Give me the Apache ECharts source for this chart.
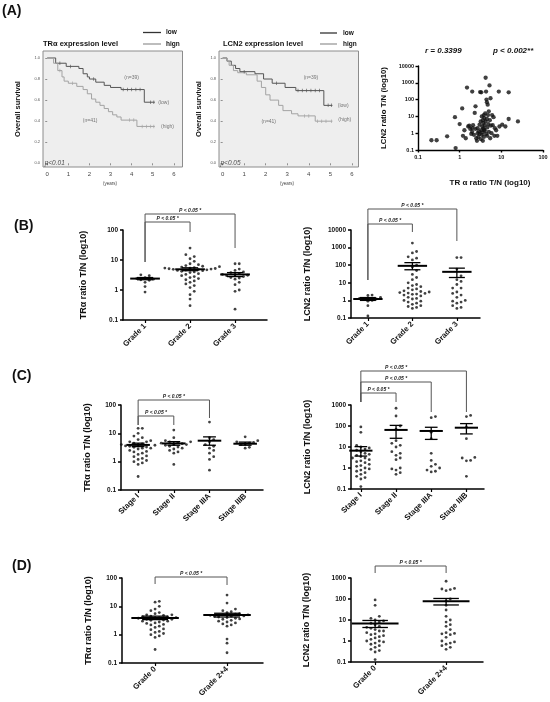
<!DOCTYPE html>
<html><head><meta charset="utf-8">
<script src="https://cdn.jsdelivr.net/npm/echarts@6/dist/echarts.min.js"></script>
<style>html,body{margin:0;padding:0;background:#fff}#c{width:550px;height:702px}</style>
</head><body><div id="c"></div>
<script>
// ================= DATA =================
// (A) Kaplan–Meier curves: [years, survival after the drop]
const kmYears = [0, 1, 2, 3, 4, 5, 6];
const kmSurvTicks = [0, 0.2, 0.4, 0.6, 0.8, 1.0];
const traLowSteps = [[0,1],[0.4,0.95],[0.9,0.92],[1.5,0.9],[1.7,0.85],[1.9,0.82],[2.0,0.8],[2.3,0.77],[2.7,0.74],[3.0,0.72],[3.5,0.7],[4.6,0.58],[5.1,0.58]];
const traHighSteps = [[0,1],[0.3,0.95],[0.5,0.88],[0.7,0.82],[0.8,0.78],[1.0,0.76],[1.4,0.73],[1.7,0.7],[1.9,0.66],[2.1,0.61],[2.3,0.58],[2.5,0.55],[2.7,0.52],[2.9,0.49],[3.1,0.46],[3.3,0.44],[3.5,0.41],[4.25,0.35],[5.1,0.35]];
const traLowCensor = [0.6, 1.1, 2.2, 3.6, 3.8, 4.0, 4.2, 4.4, 4.9, 5.05];
const traHighCensor = [0.6, 1.2, 3.9, 4.1, 4.5, 4.7, 4.9, 5.05];
const lcnLowSteps = [[0,1],[0.2,0.97],[0.4,0.93],[0.6,0.9],[0.8,0.87],[1.5,0.85],[1.9,0.8],[2.3,0.76],[2.9,0.72],[3.4,0.69],[4.7,0.55],[5.1,0.55]];
const lcnHighSteps = [[0,1],[0.2,0.97],[0.3,0.93],[0.5,0.88],[0.7,0.86],[1.1,0.84],[1.6,0.78],[1.8,0.72],[2.0,0.65],[2.2,0.6],[2.6,0.55],[2.8,0.5],[3.2,0.47],[3.5,0.45],[4.3,0.4],[5.1,0.4]];
const lcnLowCensor = [1.0, 2.5, 3.5, 3.7, 3.9, 4.1, 4.3, 4.5, 4.9, 5.05];
const lcnHighCensor = [3.8, 4.0, 4.4, 4.6, 4.8, 5.05];

// (A) correlation scatter: TRα ratio T/N, LCN2 ratio T/N
const scatterTRa = [0.21,0.28,0.5,0.8,0.77,1.0,1.15,1.2,1.3,1.4,1.5,1.6,1.7,1.8,1.9,2.0,2.0,2.1,2.2,2.3,2.4,2.4,2.5,2.6,2.7,2.7,2.8,2.9,3.0,3.0,3.1,3.2,3.2,3.3,3.3,3.4,3.4,3.5,3.5,3.6,3.6,3.7,3.7,3.8,3.8,3.9,4.0,4.0,4.1,4.2,4.2,4.3,4.3,4.4,4.5,4.5,4.6,4.7,4.8,4.9,5.0,5.0,5.2,5.3,5.4,5.5,5.6,5.8,6.0,6.2,6.5,6.8,7.0,7.5,8.0,8.7,9.0,10.5,12.5,15,15,25,3.9,4.6,2.0];
const scatterLCN2 = [0.38,0.38,0.65,0.13,9,3.5,30,0.7,1.5,0.5,520,2.5,2.8,1.8,0.9,300,1.2,3,0.8,16,40,1.8,0.5,0.35,2,1.0,0.6,1.3,0.9,3.2,280,0.45,5,1.5,270,0.8,10,2.5,1.1,6,0.35,4,1.9,12,0.6,8,3,1.4,15,2000,5,0.9,300,100,70,7,2.2,50,12,3.5,1.2,20,700,6,0.5,120,2.8,1.0,12,3,9,0.7,2,1.5,0.7,300,2.5,3.2,2.5,7,270,5,1.6,0.7,2.0];

// (B) by histological grade
const gradeCats = ['Grade 1', 'Grade 2', 'Grade 3'];
const traGrade1 = [3.2,3.0,2.6,2.4,2.3,2.2,2.1,1.8,1.3,0.85];
const traGrade2 = [25,15,13,11,9,7.5,7,6.5,6.2,6,5.8,5.6,5.4,5.3,5.2,5.1,5,4.9,4.8,4.7,4.6,4.5,4.4,4.2,4,3.8,3.5,3.3,3,2.8,2.6,2.4,2.2,2,1.8,1.6,1.4,1.2,0.9,0.7,0.5,0.3];
const traGrade3 = [7.5,7.5,5,4.5,4,3.8,3.5,3.3,3.2,3.1,3,2.8,2.6,2.5,2.3,1.8,1.5,1.0,0.9,0.23];
const traGradeMean = [2.4, 4.9, 3.3];
const traGradeSemLow = [2.2, 4.4, 2.8];
const traGradeSemHigh = [2.6, 5.5, 3.8];
const lcnGrade1 = [2.0,1.9,1.5,1.3,1.2,1.1,1.0,0.9,0.5,0.13];
const lcnGrade2 = [1800,600,500,300,250,200,100,80,50,30,20,15,10,8,7,6,5,4.5,4,3.5,3.2,3,2.8,2.6,2.5,2.3,2.2,2,1.8,1.5,1.3,1.2,1,0.9,0.8,0.7,0.6,0.5,0.45,0.4,0.35];
const lcnGrade3 = [270,270,60,25,15,12,8,5,5,3,2.5,2,1.5,1,0.9,0.8,0.7,0.5,0.4,0.35];
const lcnGradeMean = [1.2, 92, 42];
const lcnGradeSemLow = [1.0, 55, 20];
const lcnGradeSemHigh = [1.45, 140, 68];

// (C) by stage
const stageCats = ['Stage I', 'Stage II', 'Stage IIIA', 'Stage IIIB'];
const traStage1 = [15,15,10,8,7,6,5.5,5,5,4.5,4.2,4,4,3.8,3.6,3.5,3.3,3.2,3,3,2.8,2.5,2.3,2.2,2,1.8,1.6,1.5,1.3,1.2,1.1,1,0.9,0.8,0.3];
const traStage2 = [13,7,5.5,5,5,4.8,4.5,4.3,4,4,3.8,3.5,3.3,3,2.8,2.5,2.2,2,0.8];
const traStage3A = [25,7,6,5,4,3.5,3,2.5,2,1.5,1.2,0.5];
const traStage3B = [7.5,5.5,5,4.8,4.5,4.2,4,3.2,3];
const traStageMean = [3.9, 4.4, 5.5, 4.3];
const traStageSemLow = [3.4, 3.8, 3.8, 3.8];
const traStageSemHigh = [4.5, 5.1, 7.5, 4.9];
const lcnStage1 = [90,50,12,10,9,8,7,6,5,4.5,4,3.5,3,3,2.5,2.2,2,1.8,1.5,1.3,1.2,1,0.9,0.8,0.7,0.6,0.5,0.4,0.35,0.3,0.13];
const lcnStage2 = [700,300,100,70,20,15,12,10,6,5,4,3,2.5,1,0.9,0.8,0.6,0.5];
const lcnStage3A = [280,250,50,25,5,2.3,1.5,1.2,1,0.8,0.7,0.65];
const lcnStage3B = [320,280,90,25,3.2,3,2.3,2.2,0.4];
const lcnStageMean = [6.7, 65, 58, 83];
const lcnStageSemLow = [3.7, 26, 23, 42];
const lcnStageSemHigh = [10.4, 107, 87, 130];

// (D) by nuclear grade
const nucCats = ['Grade 0', 'Grade 2+4'];
const traNuc0 = [15,14,10,8,7,6,5.5,5,5,4.8,4.5,4.3,4.2,4,4,3.8,3.7,3.5,3.5,3.3,3.2,3,3,2.8,2.6,2.5,2.3,2.2,2,1.8,1.6,1.5,1.3,1.2,1.1,1,0.9,0.8,0.3];
const traNuc24 = [25,13,8,7,6.5,6,5.5,5.3,5,5,4.8,4.6,4.5,4.4,4.2,4,3.8,3.6,3.5,3.2,3,2.8,2.6,2.4,2.2,2,0.7,0.5,0.23];
const traNucMean = [3.9, 4.9];
const traNucSemLow = [3.4, 4.2];
const traNucSemHigh = [4.5, 5.7];
const lcnNuc0 = [90,50,15,12,10,9,8,7,6,5,4.5,4,3.5,3,3,2.5,2.2,2,1.8,1.6,1.4,1.2,1,1,0.9,0.8,0.7,0.6,0.5,0.4,0.35,0.3,0.13];
const lcnNuc24 = [700,320,300,280,250,100,80,50,30,15,10,8,6,5,3.5,2.5,2.3,2.2,2,1.5,1,0.9,0.8,0.7,0.6,0.5,0.4];
const lcnNucMean = [6.9, 79];
const lcnNucSemLow = [4.4, 52];
const lcnNucSemHigh = [9.5, 106];

const logTicks2 = [0.1, 1, 10, 100];
const logTicks3 = [0.1, 1, 10, 100, 1000];
const logTicks4 = [0.1, 1, 10, 100, 1000, 10000];
const sigLabel = 'P < 0.05 *';

// ================= LAYOUT / STYLE =================
const FONT = '"Liberation Sans", Arial, Helvetica, sans-serif';
const chart = echarts.init(document.getElementById('c'), null, {renderer: 'canvas'});
const grids = [], xAxes = [], yAxes = [], series = [], graphic = [];

function survAt(steps, t) { let s = steps[0][1]; for (const p of steps) { if (p[0] <= t) s = p[1]; } return s; }
function fmtNum(v) { return String(+Number(v).toPrecision(6)); }

function addKM(box, xr, yr, nameGap, low, high, lowC, highC, notes) {
  const g = grids.length;
  grids.push({left: box[0], top: box[1], width: box[2], height: box[3], show: true,
    backgroundColor: '#eeeeee', borderColor: '#8c8c8c', borderWidth: 1, outerBoundsMode: 'none', containLabel: false});
  xAxes.push({gridIndex: g, type: 'value', min: xr[0], max: xr[1], splitLine: {show: false}, axisLine: {show: false},
    axisTick: {show: true, length: 2, customValues: kmYears, lineStyle: {color: '#777', width: 0.8}},
    axisLabel: {customValues: kmYears, fontSize: 6, color: '#444', margin: 4, fontFamily: FONT}});
  yAxes.push({gridIndex: g, type: 'value', min: yr[0], max: yr[1], splitLine: {show: false}, axisLine: {show: false},
    axisTick: {show: true, length: 2, customValues: kmSurvTicks, lineStyle: {color: '#777', width: 0.8}},
    axisLabel: {customValues: kmSurvTicks, fontSize: 4, color: '#555', margin: 3, fontFamily: FONT, formatter: v => Number(v).toFixed(1)},
    name: 'Overall survival', nameLocation: 'middle', nameGap: nameGap,
    nameTextStyle: {fontWeight: 'bold', fontSize: 7.5, color: '#111', fontFamily: FONT}});
  const lineCfg = (data, color) => ({type: 'line', xAxisIndex: g, yAxisIndex: g, data: data, step: 'end', symbol: 'none',
    lineStyle: {color: color, width: 1}, silent: true, z: 3});
  series.push(lineCfg(low, '#555555'));
  series.push(lineCfg(high, '#a3a3a3'));
  const censCfg = (times, steps, color) => ({type: 'scatter', xAxisIndex: g, yAxisIndex: g,
    data: times.map(t => [t, survAt(steps, t)]), symbol: 'rect', symbolSize: [0.8, 3.5], itemStyle: {color: color}, z: 4, silent: true});
  series.push(censCfg(lowC, low, '#555555'));
  series.push(censCfg(highC, high, '#a3a3a3'));
  series.push({type: 'scatter', xAxisIndex: g, yAxisIndex: g, symbolSize: 0, silent: true, z: 5,
    data: notes.map(n => ({value: n.at, name: n.text,
      label: {show: true, formatter: '{b}', position: n.left ? 'right' : 'inside', distance: 0,
        fontSize: n.size || 5, fontStyle: n.italic ? 'italic' : 'normal', color: n.color || '#555', fontFamily: FONT}}))});
}

addKM([43, 51, 139.5, 116], [-0.2, 6.41], [-0.035, 1.066], 21, traLowSteps, traHighSteps, traLowCensor, traHighCensor, [
  {text: '(n=39)', at: [4.0, 0.815]}, {text: '(low)', at: [5.52, 0.58]},
  {text: '(n=41)', at: [2.03, 0.405]}, {text: '(high)', at: [5.7, 0.35]},
  {text: 'p<0.01', at: [-0.12, 0.0], left: true, italic: true, size: 6.5, color: '#222'}]);
addKM([219, 51, 139.5, 116], [-0.17, 6.31], [-0.035, 1.066], 16, lcnLowSteps, lcnHighSteps, lcnLowCensor, lcnHighCensor, [
  {text: '(n=39)', at: [4.1, 0.81]}, {text: '(low)', at: [5.6, 0.55]},
  {text: '(n=41)', at: [2.14, 0.40]}, {text: '(high)', at: [5.67, 0.415]},
  {text: 'p<0.05', at: [-0.1, 0.0], left: true, italic: true, size: 6.5, color: '#222'}]);

// Scatter (A right)
(function () {
  const g = grids.length;
  grids.push({left: 418, top: 66, width: 125, height: 84, outerBoundsMode: 'none', containLabel: false});
  const ax = {color: '#000', width: 1.4};
  xAxes.push({gridIndex: g, type: 'log', logBase: 10, min: 0.1, max: 100, splitLine: {show: false}, minorTick: {show: false},
    axisLine: {show: true, lineStyle: ax}, axisTick: {show: true, length: 2.5, customValues: logTicks2, lineStyle: ax},
    axisLabel: {customValues: logTicks2, formatter: fmtNum, fontSize: 5.5, fontWeight: 'bold', color: '#111', margin: 4, fontFamily: FONT}});
  yAxes.push({gridIndex: g, type: 'log', logBase: 10, min: 0.1, max: 10000, splitLine: {show: false}, minorTick: {show: false},
    axisLine: {show: true, lineStyle: ax}, axisTick: {show: true, length: 2.5, customValues: logTicks4, lineStyle: ax},
    axisLabel: {customValues: logTicks4, formatter: fmtNum, fontSize: 5.5, fontWeight: 'bold', color: '#111', margin: 4, fontFamily: FONT},
    name: 'LCN2 ratio T/N (log10)', nameLocation: 'middle', nameGap: 30,
    nameTextStyle: {fontWeight: 'bold', fontSize: 7.8, color: '#111', fontFamily: FONT}});
  series.push({type: 'scatter', xAxisIndex: g, yAxisIndex: g, symbol: 'circle', symbolSize: 4.3,
    itemStyle: {color: '#111'}, data: scatterTRa.map((x, i) => [x, scatterLCN2[i]]), silent: true});
})();

// Dot plots
const panels = [
  {box: [123, 230, 144, 90], xr: [0.51, 3.71], yr: [0.1, 100], ticks: logTicks2, cats: gradeCats,
   groups: [traGrade1, traGrade2, traGrade3], mean: traGradeMean, lo: traGradeSemLow, hi: traGradeSemHigh,
   name: 'TRα ratio T/N (log10)', nameGap: 35,
   br: [{a: 1, b: 2, top: -8, l: 32, r: 2}, {a: 1, b: 3, top: -16, l: 32, r: 18}]},
  {box: [351, 230, 129, 88], xr: [0.62, 3.52], yr: [0.1, 10000], ticks: logTicks4, cats: gradeCats,
   groups: [lcnGrade1, lcnGrade2, lcnGrade3], mean: lcnGradeMean, lo: lcnGradeSemLow, hi: lcnGradeSemHigh,
   name: 'LCN2 ratio T/N (log10)', nameGap: 39,
   br: [{a: 1, b: 2, top: -6, l: 50, r: 2}, {a: 1, b: 3, top: -21, l: 50, r: 11}]},
  {box: [121, 405, 142, 85], xr: [0.52, 4.5], yr: [0.1, 100], ticks: logTicks2, cats: stageCats,
   groups: [traStage1, traStage2, traStage3A, traStage3B], mean: traStageMean, lo: traStageSemLow, hi: traStageSemHigh,
   name: 'TRα ratio T/N (log10)', nameGap: 29,
   br: [{a: 1, b: 2, top: 11, l: 20, r: 20}, {a: 1, b: 3, top: -5, l: 20, r: 13}]},
  {box: [351, 405, 133, 84], xr: [0.72, 4.5], yr: [0.1, 1000], ticks: logTicks3, cats: stageCats,
   groups: [lcnStage1, lcnStage2, lcnStage3A, lcnStage3B], mean: lcnStageMean, lo: lcnStageSemLow, hi: lcnStageSemHigh,
   name: 'LCN2 ratio T/N (log10)', nameGap: 39,
   br: [{a: 1, b: 2, top: -12, l: -3, r: -3}, {a: 1, b: 3, top: -23, l: -3, r: 7, t: 2}, {a: 1, b: 4, top: -34, l: -3, r: 7, t: 2}]},
  {box: [122, 578, 141, 85], xr: [0.54, 2.5], yr: [0.1, 100], ticks: logTicks2, cats: nucCats,
   groups: [traNuc0, traNuc24], mean: traNucMean, lo: traNucSemLow, hi: traNucSemHigh,
   name: 'TRα ratio T/N (log10)', nameGap: 29,
   br: [{a: 1, b: 2, top: -1, l: 6, r: 7}]},
  {box: [351, 578, 132, 84], xr: [0.66, 2.52], yr: [0.1, 1000], ticks: logTicks3, cats: nucCats,
   groups: [lcnNuc0, lcnNuc24], mean: lcnNucMean, lo: lcnNucSemLow, hi: lcnNucSemHigh,
   name: 'LCN2 ratio T/N (log10)', nameGap: 40,
   br: [{a: 1, b: 2, top: -12, l: -5, r: -5}]}
];

panels.forEach(p => {
  const g = grids.length; p.g = g;
  grids.push({left: p.box[0], top: p.box[1], width: p.box[2], height: p.box[3], outerBoundsMode: 'none', containLabel: false});
  const ax = {color: '#000', width: 1.5};
  const catVals = p.cats.map((c, i) => i + 1);
  xAxes.push({gridIndex: g, type: 'value', min: p.xr[0], max: p.xr[1], splitLine: {show: false},
    axisLine: {show: true, lineStyle: ax},
    axisTick: {show: true, length: 3, customValues: catVals, lineStyle: {color: '#000', width: 1.2}},
    axisLabel: {customValues: catVals, rotate: 45, formatter: v => p.cats[Math.round(v) - 1] || '',
      fontSize: 7.8, fontWeight: 'bold', color: '#111', margin: 5, fontFamily: FONT}});
  yAxes.push({gridIndex: g, type: 'log', logBase: 10, min: p.yr[0], max: p.yr[1], splitLine: {show: false}, minorTick: {show: false},
    axisLine: {show: true, lineStyle: ax}, axisTick: {show: true, length: 3, customValues: p.ticks, lineStyle: ax},
    axisLabel: {customValues: p.ticks, formatter: fmtNum, fontSize: 6.5, fontWeight: 'bold', color: '#111', margin: 5, fontFamily: FONT},
    name: p.name, nameLocation: 'middle', nameGap: p.nameGap,
    nameTextStyle: {fontWeight: 'bold', fontSize: 9, color: '#111', fontFamily: FONT}});
  // mean ± SEM
  series.push({type: 'custom', xAxisIndex: g, yAxisIndex: g, silent: true, z: 5,
    data: p.cats.map((c, i) => [i + 1, p.mean[i], p.lo[i], p.hi[i]]),
    renderItem: (params, api) => {
      const x = api.value(0);
      const pm = api.coord([x, api.value(1)]), pl = api.coord([x, api.value(2)]), ph = api.coord([x, api.value(3)]);
      const unit = api.coord([x + 1, api.value(1)])[0] - pm[0];
      const hw = unit * 0.33, cw = unit * 0.18;
      const st = w => ({stroke: '#000', lineWidth: w});
      return {type: 'group', children: [
        {type: 'line', shape: {x1: pm[0] - hw, y1: pm[1], x2: pm[0] + hw, y2: pm[1]}, style: st(2)},
        {type: 'line', shape: {x1: pl[0], y1: pl[1], x2: ph[0], y2: ph[1]}, style: st(1.3)},
        {type: 'line', shape: {x1: pl[0] - cw, y1: pl[1], x2: pl[0] + cw, y2: pl[1]}, style: st(1.3)},
        {type: 'line', shape: {x1: ph[0] - cw, y1: ph[1], x2: ph[0] + cw, y2: ph[1]}, style: st(1.3)}
      ]};
    }});
  // significance brackets
  series.push({type: 'custom', xAxisIndex: g, yAxisIndex: g, silent: true, clip: false, z: 6,
    data: p.br.map(b => [b.a, b.b]),
    renderItem: (params, api) => {
      const b = p.br[params.dataIndex];
      const top0 = api.coord([b.a, p.yr[1]])[1];
      const xa = api.coord([b.a, p.yr[1]])[0], xb = api.coord([b.b, p.yr[1]])[0];
      const yt = top0 + b.top;
      const xt = b.t ? api.coord([b.t, p.yr[1]])[0] : (xa + xb) / 2;
      return {type: 'group', children: [
        {type: 'polyline', shape: {points: [[xa, top0 + b.l], [xa, yt], [xb, yt], [xb, top0 + b.r]]},
         style: {stroke: '#555', lineWidth: 1, fill: 'none'}},
        {type: 'text', style: {text: sigLabel, x: xt, y: yt - 1, align: 'center', verticalAlign: 'bottom',
         font: 'italic bold 5px ' + FONT, fill: '#222'}}
      ]};
    }});
});

// Free texts
function txt(text, x, y, font, align, color) {
  graphic.push({type: 'text', x: x, y: y, silent: true,
    style: {text: text, font: font, fill: color || '#111', align: align || 'left', verticalAlign: 'middle',
      textAlign: align || 'left', textVerticalAlign: 'middle'}});
}
function seg(x1, y1, x2, y2, color, w) {
  graphic.push({type: 'line', silent: true, shape: {x1, y1, x2, y2}, style: {stroke: color, lineWidth: w}});
}
txt('(A)', 2, 11, 'bold 14px ' + FONT);
txt('(B)', 14, 226, 'bold 14px ' + FONT);
txt('(C)', 12, 376, 'bold 14px ' + FONT);
txt('(D)', 12, 566, 'bold 14px ' + FONT);
txt('TRα expression level', 43, 44, 'bold 7.5px ' + FONT);
txt('LCN2 expression level', 223, 44, 'bold 7.5px ' + FONT);
seg(143, 32.5, 161, 32.5, '#333', 1.3); txt('low', 166, 32.5, 'bold 6.5px ' + FONT);
seg(143, 44, 161, 44, '#999', 1.3); txt('hign', 166, 44, 'bold 6.5px ' + FONT);
seg(320, 33, 337, 33, '#333', 1.3); txt('low', 343, 33, 'bold 6.5px ' + FONT);
seg(320, 44, 337, 44, '#999', 1.3); txt('hign', 343, 44, 'bold 6.5px ' + FONT);
txt('(years)', 110, 184, '4.5px ' + FONT, 'center', '#444');
txt('(years)', 287, 184, '4.5px ' + FONT, 'center', '#444');
txt('r = 0.3399', 425, 51, 'italic bold 8px ' + FONT);
txt('p < 0.002**', 493, 51, 'italic bold 8px ' + FONT);
txt('TR α ratio T/N (log10)', 490, 183, 'bold 8px ' + FONT, 'center');

const option = {animation: false, backgroundColor: '#ffffff', textStyle: {fontFamily: FONT},
  grid: grids, xAxis: xAxes, yAxis: yAxes, series: series, graphic: graphic};
chart.setOption(option);

// Beeswarm layout of the dots (computed in pixel space through the chart's own scales)
function swarm(g, catX, vals, d) {
  const pts = vals.map(v => ({v: v, py: chart.convertToPixel({gridIndex: g}, [catX, v])[1]}));
  const px0 = chart.convertToPixel({gridIndex: g}, [catX, vals[0]])[0];
  pts.sort((a, b) => b.py - a.py);
  const placed = [];
  pts.forEach(pt => {
    let off = 0;
    for (let k = 0; k < 200; k++) {
      off = k === 0 ? 0 : (k % 2 ? 1 : -1) * Math.ceil(k / 2) * d;
      const hit = placed.some(q => (q.off - off) * (q.off - off) + (q.py - pt.py) * (q.py - pt.py) < d * d * 0.95);
      if (!hit) break;
    }
    pt.off = off; placed.push(pt);
  });
  return placed.map(pt => [chart.convertFromPixel({gridIndex: g}, [px0 + pt.off, pt.py])[0], pt.v]);
}
panels.forEach(p => {
  let data = [];
  p.groups.forEach((vals, i) => { data = data.concat(swarm(p.g, i + 1, vals, 4.2)); });
  series.push({type: 'scatter', xAxisIndex: p.g, yAxisIndex: p.g, symbol: 'circle', symbolSize: 2.8,
    itemStyle: {color: '#111'}, data: data, silent: true, z: 4});
});
chart.setOption({series: series});
</script></body></html>
